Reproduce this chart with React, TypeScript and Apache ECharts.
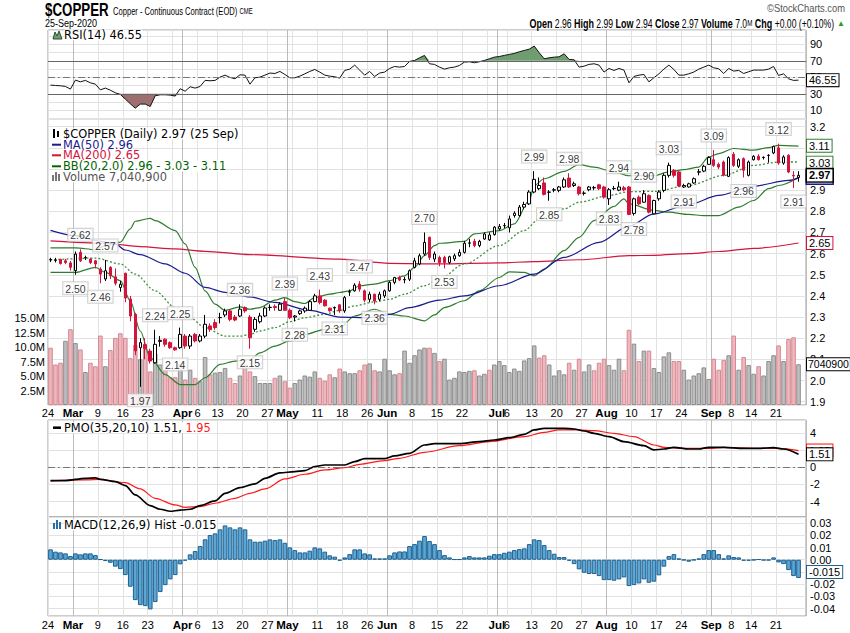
import React, { useEffect, useRef } from "react";
import * as echarts from "echarts";

// ---------------- categories (trading days) ----------------
const MONTH_DAYS: [string, number[]][] = [
  ["Feb", [24, 25, 26, 27, 28]],
  ["Mar", [2, 3, 4, 5, 6, 9, 10, 11, 12, 13, 16, 17, 18, 19, 20, 23, 24, 25, 26, 27, 30, 31]],
  ["Apr", [1, 2, 3, 6, 7, 8, 9, 13, 14, 15, 16, 17, 20, 21, 22, 23, 24, 27, 28, 29, 30]],
  ["May", [1, 4, 5, 6, 7, 8, 11, 12, 13, 14, 15, 18, 19, 20, 21, 22, 26, 27, 28, 29]],
  ["Jun", [1, 2, 3, 4, 5, 8, 9, 10, 11, 12, 15, 16, 17, 18, 19, 22, 23, 24, 25, 26, 29, 30]],
  ["Jul", [1, 2, 6, 7, 8, 9, 10, 13, 14, 15, 16, 17, 20, 21, 22, 23, 24, 27, 28, 29, 30, 31]],
  ["Aug", [3, 4, 5, 6, 7, 10, 11, 12, 13, 14, 17, 18, 19, 20, 21, 24, 25, 26, 27, 28, 31]],
  ["Sep", [1, 2, 3, 4, 8, 9, 10, 11, 14, 15, 16, 17, 18, 21, 22, 23, 24, 25]],
];
const DATES: string[] = MONTH_DAYS.flatMap(([m, ds]) => ds.map((d) => `${d} ${m}`));

const X_LABELS: [number, string][] = [
  [0, "24"], [5, "Mar"], [10, "9"], [15, "16"], [20, "23"], [27, "Apr"], [30, "6"], [34, "13"],
  [39, "20"], [44, "27"], [48, "May"], [54, "11"], [59, "18"], [64, "26"], [68, "Jun"], [73, "8"],
  [78, "15"], [83, "22"], [90, "Jul"], [92, "6"], [97, "13"], [102, "20"], [107, "27"], [112, "Aug"],
  [117, "10"], [122, "17"], [127, "24"], [133, "Sep"], [137, "8"], [141, "14"], [146, "21"],
];
const WEEK_STARTS = [0, 5, 10, 15, 20, 25, 30, 34, 39, 44, 49, 54, 59, 64, 68, 73, 78, 83, 88, 92, 97, 102, 107, 112, 117, 122, 127, 132, 137, 141, 146];
const MONTH_STARTS = [5, 27, 48, 68, 90, 112, 133];

// ---------------- price data ----------------
const OPEN = [
  2.570, 2.568, 2.572, 2.566, 2.556, 2.520, 2.606, 2.580, 2.574, 2.566,
  2.527, 2.480, 2.535, 2.490, 2.440, 2.507, 2.385, 2.313, 2.155, 2.170,
  2.139, 2.084, 2.185, 2.195, 2.179, 2.155, 2.155, 2.210, 2.163, 2.218,
  2.187, 2.210, 2.258, 2.274, 2.297, 2.310, 2.329, 2.300, 2.305, 2.345,
  2.300, 2.242, 2.278, 2.305, 2.345, 2.350, 2.332, 2.373, 2.332, 2.300,
  2.316, 2.329, 2.332, 2.373, 2.400, 2.380, 2.342, 2.343, 2.358, 2.329,
  2.418, 2.424, 2.456, 2.424, 2.384, 2.408, 2.384, 2.400, 2.424, 2.464,
  2.487, 2.476, 2.479, 2.535, 2.551, 2.598, 2.677, 2.574, 2.582, 2.582,
  2.558, 2.575, 2.590, 2.606, 2.649, 2.658, 2.638, 2.669, 2.665, 2.690,
  2.717, 2.732, 2.722, 2.780, 2.780, 2.820, 2.835, 2.891, 2.907, 2.934,
  2.890, 2.900, 2.899, 2.915, 2.957, 2.922, 2.915, 2.885, 2.902, 2.911,
  2.925, 2.915, 2.859, 2.907, 2.900, 2.911, 2.915, 2.790, 2.867, 2.843,
  2.875, 2.788, 2.859, 2.899, 2.970, 2.994, 2.986, 2.915, 2.915, 2.934,
  2.985, 2.990, 3.022, 3.044, 3.022, 3.033, 2.965, 3.070, 3.013, 3.049,
  2.970, 3.044, 3.060, 3.054, 3.064, 3.076, 3.100, 3.028, 3.065, 2.970,
  2.960,
];
const HIGH = [
  2.580, 2.580, 2.576, 2.575, 2.565, 2.610, 2.620, 2.590, 2.580, 2.570,
  2.535, 2.570, 2.540, 2.530, 2.470, 2.510, 2.400, 2.320, 2.200, 2.200,
  2.150, 2.240, 2.210, 2.200, 2.185, 2.160, 2.250, 2.220, 2.220, 2.225,
  2.220, 2.310, 2.270, 2.290, 2.320, 2.340, 2.335, 2.310, 2.360, 2.350,
  2.310, 2.300, 2.320, 2.350, 2.360, 2.360, 2.370, 2.390, 2.340, 2.310,
  2.335, 2.350, 2.380, 2.410, 2.430, 2.385, 2.345, 2.350, 2.360, 2.400,
  2.430, 2.460, 2.470, 2.430, 2.420, 2.410, 2.420, 2.430, 2.470, 2.490,
  2.495, 2.490, 2.525, 2.580, 2.600, 2.700, 2.680, 2.610, 2.590, 2.590,
  2.590, 2.600, 2.620, 2.660, 2.670, 2.670, 2.665, 2.700, 2.700, 2.730,
  2.740, 2.745, 2.780, 2.800, 2.830, 2.845, 2.900, 2.990, 2.960, 2.960,
  2.900, 2.910, 2.920, 2.960, 2.980, 2.940, 2.920, 2.895, 2.920, 2.920,
  2.930, 2.920, 2.910, 2.920, 2.940, 2.920, 2.920, 2.865, 2.875, 2.900,
  2.880, 2.855, 2.900, 2.980, 3.030, 3.000, 2.990, 2.930, 2.935, 2.960,
  3.000, 3.020, 3.060, 3.090, 3.030, 3.040, 3.060, 3.080, 3.050, 3.055,
  3.040, 3.065, 3.070, 3.060, 3.070, 3.110, 3.120, 3.065, 3.070, 2.990,
  2.990,
];
const LOW = [
  2.560, 2.558, 2.548, 2.550, 2.520, 2.500, 2.560, 2.570, 2.550, 2.530,
  2.460, 2.470, 2.480, 2.450, 2.420, 2.370, 2.280, 2.120, 1.970, 2.100,
  2.080, 2.080, 2.160, 2.160, 2.150, 2.140, 2.150, 2.150, 2.150, 2.180,
  2.180, 2.200, 2.230, 2.240, 2.270, 2.300, 2.280, 2.280, 2.300, 2.320,
  2.150, 2.230, 2.270, 2.300, 2.330, 2.330, 2.330, 2.330, 2.290, 2.280,
  2.310, 2.320, 2.330, 2.370, 2.360, 2.350, 2.325, 2.310, 2.320, 2.320,
  2.400, 2.420, 2.420, 2.370, 2.370, 2.360, 2.375, 2.390, 2.420, 2.455,
  2.470, 2.460, 2.470, 2.530, 2.545, 2.590, 2.570, 2.560, 2.540, 2.530,
  2.550, 2.565, 2.585, 2.600, 2.630, 2.630, 2.630, 2.665, 2.660, 2.685,
  2.710, 2.720, 2.700, 2.770, 2.775, 2.810, 2.830, 2.885, 2.900, 2.875,
  2.850, 2.890, 2.890, 2.910, 2.910, 2.915, 2.875, 2.875, 2.895, 2.900,
  2.900, 2.860, 2.830, 2.900, 2.895, 2.895, 2.782, 2.780, 2.830, 2.840,
  2.790, 2.785, 2.850, 2.890, 2.960, 2.960, 2.915, 2.910, 2.912, 2.930,
  2.970, 2.985, 3.020, 3.010, 3.000, 2.965, 2.962, 3.010, 3.005, 2.960,
  2.965, 3.040, 3.040, 3.045, 3.030, 3.070, 3.020, 3.020, 2.980, 2.910,
  2.940,
];
const CLOSE = [
  2.572, 2.570, 2.553, 2.558, 2.535, 2.598, 2.566, 2.582, 2.558, 2.551,
  2.503, 2.519, 2.495, 2.460, 2.455, 2.390, 2.305, 2.140, 2.179, 2.150,
  2.092, 2.171, 2.190, 2.171, 2.155, 2.145, 2.218, 2.163, 2.210, 2.187,
  2.210, 2.266, 2.242, 2.250, 2.298, 2.329, 2.289, 2.286, 2.337, 2.329,
  2.202, 2.289, 2.305, 2.343, 2.346, 2.345, 2.361, 2.332, 2.297, 2.305,
  2.329, 2.342, 2.373, 2.400, 2.369, 2.353, 2.330, 2.345, 2.329, 2.392,
  2.420, 2.451, 2.432, 2.380, 2.408, 2.376, 2.408, 2.424, 2.464, 2.487,
  2.475, 2.478, 2.519, 2.566, 2.590, 2.653, 2.582, 2.598, 2.558, 2.558,
  2.585, 2.590, 2.606, 2.649, 2.651, 2.638, 2.658, 2.693, 2.688, 2.725,
  2.728, 2.733, 2.764, 2.791, 2.820, 2.832, 2.891, 2.951, 2.922, 2.880,
  2.891, 2.902, 2.915, 2.949, 2.915, 2.930, 2.883, 2.886, 2.915, 2.912,
  2.907, 2.867, 2.902, 2.908, 2.915, 2.902, 2.785, 2.859, 2.835, 2.883,
  2.796, 2.851, 2.891, 2.970, 3.017, 2.970, 2.920, 2.922, 2.930, 2.954,
  2.987, 3.013, 3.054, 3.017, 3.009, 2.970, 3.054, 3.017, 3.044, 2.994,
  3.033, 3.060, 3.044, 3.055, 3.065, 3.107, 3.028, 3.057, 2.986, 2.967,
  2.970,
];
const PRIOR_CLOSE = 2.59;
const VOLUME_M = [
  9.9, 7.0, 7.3, 11.1, 13.1, 10.7, 9.6, 5.7, 7.3, 6.7,
  12.0, 6.7, 9.5, 11.6, 12.4, 11.6, 8.1, 10.4, 7.9, 9.7,
  5.8, 8.9, 7.0, 6.1, 4.8, 4.8, 7.0, 4.4, 6.1, 4.7,
  4.1, 8.3, 5.3, 5.6, 5.7, 6.4, 4.7, 3.8, 5.1, 7.0,
  5.8, 5.0, 3.8, 3.8, 3.8, 4.7, 5.1, 4.1, 3.0, 3.8,
  4.4, 5.1, 4.9, 5.8, 4.7, 4.2, 5.3, 4.8, 6.3, 5.8,
  5.5, 5.5, 6.0, 7.0, 7.2, 6.0, 5.8, 8.0, 6.0, 5.3,
  5.5, 9.4, 7.3, 8.6, 9.6, 9.9, 9.9, 9.0, 7.6, 8.0,
  4.4, 4.7, 5.8, 5.7, 5.9, 6.0, 5.1, 5.4, 6.1, 7.0,
  7.6, 6.9, 5.7, 6.3, 5.9, 7.7, 8.1, 10.3, 8.2, 8.6,
  7.0, 5.1, 6.0, 5.3, 7.3, 6.1, 8.0, 5.8, 7.0, 6.0,
  7.3, 8.0, 6.9, 6.1, 8.0, 6.0, 13.0, 10.6, 7.6, 9.4,
  9.4, 6.4, 5.7, 8.4, 9.1, 7.6, 7.6, 6.1, 4.4, 5.1,
  5.5, 6.5, 4.5, 8.0, 6.1, 7.8, 8.6, 12.0, 6.1, 8.3,
  6.9, 5.4, 6.7, 5.1, 7.6, 8.6, 10.3, 7.6, 11.4, 11.7,
  7.0409,
];

// overlays, read at sample dates: [trading-day index, value]
const MA50: [number, number][] = [
  [0, 2.71], [5, 2.685], [9, 2.662], [13, 2.646], [15, 2.617], [18, 2.595], [23, 2.551], [27, 2.507],
  [31, 2.44], [35, 2.417], [40, 2.395], [45, 2.369], [52, 2.332], [58, 2.3], [64, 2.297], [68, 2.313],
  [72, 2.345], [78, 2.38], [83, 2.4], [90, 2.448], [97, 2.503], [103, 2.582], [110, 2.653], [116, 2.73],
  [121, 2.788], [128, 2.832], [134, 2.875], [141, 2.919], [148, 2.946], [150, 2.958],
];
const MA200: [number, number][] = [
  [0, 2.66], [11, 2.649], [18, 2.633], [25, 2.622], [31, 2.611], [40, 2.595], [58, 2.574], [68, 2.554],
  [78, 2.551], [90, 2.556], [97, 2.562], [106, 2.571], [116, 2.59], [121, 2.592], [128, 2.6], [134, 2.61],
  [141, 2.625], [150, 2.65],
];
const BB_UPPER: [number, number][] = [
  [0, 2.627], [5, 2.627], [9, 2.619], [11, 2.638], [14, 2.654], [16, 2.717], [17, 2.753], [20, 2.767],
  [21, 2.756], [25, 2.709], [27, 2.646], [29, 2.535], [31, 2.424], [33, 2.361], [35, 2.332], [38, 2.348],
  [40, 2.337], [42, 2.345], [45, 2.38], [47, 2.392], [49, 2.373], [51, 2.364], [53, 2.392], [56, 2.408],
  [58, 2.416], [60, 2.424], [62, 2.448], [65, 2.456], [68, 2.472], [71, 2.495], [73, 2.535], [75, 2.59],
  [77, 2.638], [78, 2.649], [83, 2.658], [85, 2.693], [90, 2.709], [93, 2.741], [96, 2.851], [97, 2.922],
  [99, 2.954], [103, 2.989], [106, 3.021], [109, 3.009], [113, 2.986], [116, 2.968], [121, 2.968],
  [124, 2.986], [127, 2.997], [130, 3.009], [132, 3.057], [134, 3.073], [137, 3.097], [141, 3.089],
  [144, 3.101], [146, 3.112], [150, 3.108],
];
const BB_MID: [number, number][] = [
  [0, 2.57], [9, 2.579], [14, 2.551], [17, 2.503], [21, 2.424], [25, 2.345], [28, 2.297], [31, 2.25],
  [35, 2.21], [38, 2.21], [40, 2.218], [42, 2.234], [45, 2.25], [48, 2.278], [51, 2.297], [55, 2.313],
  [58, 2.332], [61, 2.353], [65, 2.372], [68, 2.384], [71, 2.408], [75, 2.448], [78, 2.48], [83, 2.551],
  [90, 2.638], [95, 2.709], [98, 2.764], [103, 2.812], [106, 2.843], [112, 2.875], [116, 2.893],
  [121, 2.894], [128, 2.922], [135, 2.97], [141, 3.017], [146, 3.033], [150, 3.033],
];
const BB_LOWER: [number, number][] = [
  [0, 2.511], [5, 2.511], [9, 2.535], [11, 2.511], [14, 2.472], [16, 2.377], [18, 2.234], [20, 2.108],
  [23, 2.028], [26, 1.981], [29, 1.981], [31, 2.013], [34, 2.076], [37, 2.092], [40, 2.1], [42, 2.131],
  [45, 2.163], [48, 2.187], [51, 2.218], [55, 2.242], [58, 2.25], [61, 2.305], [65, 2.337], [68, 2.313],
  [71, 2.305], [75, 2.282], [77, 2.31], [79, 2.345], [83, 2.377], [86, 2.424], [90, 2.487], [92, 2.514],
  [95, 2.511], [97, 2.495], [99, 2.527], [103, 2.614], [106, 2.677], [109, 2.756], [113, 2.823],
  [115, 2.859], [116, 2.835], [121, 2.804], [124, 2.796], [128, 2.785], [131, 2.78], [134, 2.78],
  [138, 2.82], [141, 2.851], [144, 2.907], [146, 2.922], [150, 2.96],
];
const HIGH_MARKS = [6, 11, 21, 26, 38, 47, 54, 62, 75, 97, 104, 114, 119, 124, 133, 146];
const LOW_MARKS = [5, 10, 18, 25, 40, 49, 57, 65, 79, 100, 112, 117, 127, 139, 149];

// ---------------- indicators ----------------
const RSI14 = [
  40.5, 40.1, 39.7, 38.9, 35.7, 46.6, 44.5, 46.2, 43.3, 41.7,
  34.8, 36.9, 34.4, 31.2, 29.2, 23.6, 17.9, 12.6, 17.5, 17.5,
  14.6, 27.6, 28.8, 28.8, 28.4, 27.2, 36.1, 33.2, 38.5, 36.9,
  38.9, 46.2, 45.8, 46.2, 50.2, 52.6, 49.8, 48.2, 53.0, 52.6,
  41.7, 49.4, 50.2, 52.6, 55.1, 54.6, 57.1, 53.4, 49.4, 49.4,
  51.4, 54.2, 57.1, 59.5, 56.3, 52.6, 51.4, 50.6, 49.0, 58.3,
  59.9, 64.7, 58.7, 52.6, 57.1, 51.0, 55.1, 56.3, 60.7, 63.1,
  62.3, 63.1, 69.2, 70.4, 73.6, 76.5, 66.4, 65.6, 62.3, 59.9,
  61.5, 62.3, 64.3, 68.4, 68.8, 67.6, 68.8, 70.4, 72.4, 74.4,
  75.2, 76.5, 77.7, 78.9, 80.9, 82.5, 84.1, 87.8, 79.7, 72.4,
  73.6, 74.4, 74.8, 78.5, 71.6, 71.2, 62.3, 63.5, 65.6, 66.4,
  64.7, 56.3, 60.7, 58.3, 60.7, 58.7, 43.3, 51.0, 52.6, 53.4,
  44.5, 49.4, 54.2, 59.9, 64.7, 59.5, 52.6, 52.6, 54.2, 56.3,
  59.9, 62.3, 64.7, 61.5, 60.3, 54.6, 60.7, 57.5, 58.3, 54.6,
  56.7, 58.7, 58.7, 58.7, 59.9, 63.1, 52.2, 54.2, 48.2, 46.2,
  46.55,
];
const PMO_LINE: [number, number][] = [
  [0, -1.55], [3, -1.55], [7, -1.28], [9, -1.24], [10, -1.4], [13, -1.67], [15, -2.13], [17, -3.22],
  [20, -4.46], [22, -4.89], [24, -5.12], [26, -5.0], [28, -4.89], [30, -4.46], [33, -3.92], [35, -3.03],
  [38, -2.37], [41, -1.94], [43, -1.28], [46, -0.66], [49, -0.5], [51, -0.39], [53, 0.08], [55, 0.27],
  [59, 0.27], [61, 0.66], [63, 1.01], [67, 1.01], [69, 1.32], [72, 1.63], [75, 2.6], [77, 2.76],
  [82, 2.76], [86, 2.99], [89, 3.18], [92, 3.45], [95, 3.84], [97, 4.35], [99, 4.54], [103, 4.54],
  [105, 4.46], [107, 4.23], [109, 3.96], [112, 3.57], [115, 2.99], [119, 2.52], [121, 2.02], [123, 2.13],
  [125, 2.33], [128, 2.13], [130, 2.13], [132, 2.33], [135, 2.33], [139, 2.21], [142, 2.21], [145, 2.29],
  [147, 2.13], [150, 1.51],
];
const PMO_SIGNAL: [number, number][] = [
  [0, -1.59], [7, -1.47], [10, -1.4], [15, -1.79], [18, -2.52], [21, -3.61], [25, -4.38], [27, -4.66],
  [30, -4.58], [33, -4.19], [37, -3.61], [40, -3.03], [43, -2.52], [47, -1.36], [51, -0.81], [55, -0.31],
  [59, -0.04], [62, 0.35], [67, 0.78], [70, 1.05], [75, 1.75], [82, 2.52], [88, 2.99], [95, 3.57],
  [99, 4.07], [102, 4.35], [106, 4.35], [109, 4.27], [113, 3.96], [117, 3.57], [121, 2.6], [123, 2.33],
  [127, 2.21], [132, 2.21], [135, 2.33], [142, 2.21], [146, 2.21], [150, 1.95],
];
const MACD_HIST = [
  0.0085, 0.0066, 0.0060, 0.0052, 0.0030, 0.0052, 0.0044, 0.0052, 0.0052, 0.0038,
  0.0003, -0.0011, -0.0025, -0.0057, -0.0077, -0.0126, -0.0221, -0.0331, -0.0372, -0.0380,
  -0.0407, -0.0347, -0.0265, -0.0208, -0.0161, -0.0126, -0.0038, -0.0008, 0.0044, 0.0071,
  0.0112, 0.0167, 0.0202, 0.0216, 0.0249, 0.0281, 0.0265, 0.0249, 0.0265, 0.0249,
  0.0167, 0.0148, 0.0148, 0.0156, 0.0167, 0.0161, 0.0167, 0.0139, 0.0101, 0.0079,
  0.0060, 0.0060, 0.0074, 0.0101, 0.0093, 0.0066, 0.0036, 0.0025, -0.0008, 0.0019,
  0.0046, 0.0085, 0.0085, 0.0052, 0.0044, 0.0011, 0.0011, 0.0011, 0.0036, 0.0060,
  0.0068, 0.0068, 0.0112, 0.0128, 0.0156, 0.0194, 0.0153, 0.0128, 0.0079, 0.0038,
  0.0019, 0.0003, 0.0003, 0.0019, 0.0030, 0.0019, 0.0019, 0.0019, 0.0033, 0.0046,
  0.0046, 0.0057, 0.0066, 0.0079, 0.0087, 0.0093, 0.0128, 0.0167, 0.0161, 0.0120,
  0.0079, 0.0049, 0.0022, 0.0022, -0.0008, -0.0036, -0.0079, -0.0107, -0.0117, -0.0117,
  -0.0134, -0.0167, -0.0167, -0.0172, -0.0161, -0.0145, -0.0216, -0.0208, -0.0194, -0.0161,
  -0.0189, -0.0180, -0.0128, -0.0057, 0.0030, 0.0046, 0.0011, -0.0003, -0.0016, -0.0003,
  0.0011, 0.0046, 0.0079, 0.0079, 0.0046, 0.0011, 0.0036, 0.0022, 0.0019, -0.0008,
  -0.0008, -0.0003, 0.0003, -0.0005, -0.0005, 0.0019, -0.0022, -0.0036, -0.0085, -0.0134,
  -0.0150,
];

// ---------------- styling helpers ----------------
const FONT_AX = '"Liberation Sans", Arial, sans-serif';
const FONT_LG = '"DejaVu Sans", Verdana, sans-serif';
const GL = 48;
const GR = 44;
const RED = "#d3143c";
const NAVY = "#1b1b8f";
const GREEN = "#2e7d2e";

const onStep = (v: number, s: number) => Math.abs(v / s - Math.round(v / s)) < 1e-6;
const lastOf = (a: [number, number][]) => a[a.length - 1][1];

function tagItem(value: number, text: string, border: string, bold = false, size = 11) {
  return {
    yAxis: value,
    lineStyle: { color: "rgba(0,0,0,0)", width: 1, opacity: 1, type: "solid" },
    label: {
      show: true,
      opacity: 1,
      position: "end",
      distance: 1,
      formatter: text,
      color: "#000",
      fontFamily: FONT_AX,
      fontSize: size,
      fontWeight: bold ? "bold" : "normal",
      backgroundColor: "#fff",
      borderColor: border,
      borderWidth: bold ? 1.5 : 1,
      padding: size < 11 ? [1, 1, 0, 1] : [1, 2, 0, 2],
    },
  };
}
function markLines(items: any[]) {
  return { silent: true, symbol: ["none", "none"], animation: false, label: { show: false }, data: items };
}

function buildOption() {
  const N = CLOSE.length;
  const CATS = [...DATES, ""];
  const weekSet = new Set(WEEK_STARTS);
  const monthSet = new Set(MONTH_STARTS);
  const labelMap = new Map(X_LABELS);

  const xLabel = (margin: number) => ({
    show: true,
    interval: (i: number) => labelMap.has(i),
    formatter: (_v: string, i: number) => {
      const t = labelMap.get(i) || "";
      return /^[A-Z]/.test(t) ? `{b|${t}}` : `{n|${t}}`;
    },
    margin,
    padding: [0, 5, 0, 0],
    rich: {
      b: { fontWeight: "bold", fontSize: 11.5, fontFamily: FONT_AX, color: "#000" },
      n: { fontSize: 11, fontFamily: FONT_AX, color: "#000" },
    },
  });
  const xPair = (gridIndex: number, labels: any) => [
    {
      type: "category", gridIndex, data: CATS, boundaryGap: true,
      axisLine: { show: false }, axisTick: { show: false },
      axisLabel: labels || { show: false },
      splitLine: { show: true, interval: (i: number) => weekSet.has(i) && !monthSet.has(i), lineStyle: { color: "#e2e2e2", width: 1 } },
    },
    {
      type: "category", gridIndex, data: CATS, boundaryGap: true,
      axisLine: { show: false }, axisTick: { show: false }, axisLabel: { show: false },
      splitLine: { show: true, interval: (i: number) => monthSet.has(i), lineStyle: { color: "#bcbcbc", width: 1 } },
    },
  ];

  const yBase = (gridIndex: number, min: number, max: number, step: number, fmt: (v: number) => string, position = "right") => ({
    type: "value", gridIndex, position, min, max, minInterval: step, maxInterval: step, scale: true,
    axisLine: { show: false }, axisTick: { show: false },
    splitLine: { show: true, lineStyle: { color: "#e2e2e2", width: 1 } },
    axisLabel: {
      show: true, margin: 4, fontSize: 11, fontFamily: FONT_AX, color: "#000",
      formatter: (v: number) => (onStep(v, step) ? fmt(v) : ""),
    },
  });

  const grid = (top: number, height: number, show = true) => ({
    left: GL, right: GR, top, height, show, borderColor: "#9c9c9c", borderWidth: 1,
    backgroundColor: "transparent", containLabel: false, outerBoundsMode: "none",
  });

  const volData = VOLUME_M.map((v, i) => {
    const prev = i === 0 ? PRIOR_CLOSE : CLOSE[i - 1];
    const down = CLOSE[i] < prev;
    return {
      value: v,
      itemStyle: { color: down ? "#ebb9bf" : "#bebebe", borderColor: down ? "#d88791" : "#8d8d8d", borderWidth: 1 },
    };
  });
  const candles = OPEN.map((o, i) => [o, CLOSE[i], LOW[i], HIGH[i]]);

  const annLabel = (position: string, distance: number) => ({
    show: true, position, distance,
    formatter: (p: any) => Number(p.value[1]).toFixed(2),
    fontFamily: FONT_AX, fontSize: 10.5, color: "#000",
    backgroundColor: "#fff", borderColor: "#c4c4c4", borderWidth: 1, padding: [1, 2, 0, 2],
  });

  const lastClose = CLOSE[N - 1];
  const lastRSI = RSI14[N - 1];

  const legendText = (x: number, y: number, text: string, fill: string) => ({
    type: "text", x, y, silent: true, z: 50,
    style: { text, font: `11.4px ${FONT_LG}`, fill, align: "left", verticalAlign: "middle", backgroundColor: "#fff" },
  });
  const lineIcon = (y: number, color: string, w = 2) => ({
    type: "line", silent: true, z: 50, shape: { x1: 52, y1: y, x2: 61, y2: y }, style: { stroke: color, lineWidth: w },
  });
  const narrow = (x: number, y: number, text: string, font: string, sx: number, align = "left", fill = "#000", rich?: any) => ({
    type: "text", x, y, scaleX: sx, scaleY: 1, silent: true, z: 50,
    style: { text, font, fill, align, verticalAlign: "middle", rich },
  });

  const chg = lastClose - CLOSE[N - 2];
  const chgPct = (chg / CLOSE[N - 2]) * 100;
  const sign = (v: number) => (v >= 0 ? "+" : "");

  return {
    animation: false,
    backgroundColor: "#fff",
    textStyle: { fontFamily: FONT_AX },
    grid: [grid(30, 89), grid(119, 286), grid(318.2, 86.8, false), grid(420, 97), grid(517, 99)],
    xAxis: [
      ...xPair(0, null),
      ...xPair(1, xLabel(2)),
      { type: "category", gridIndex: 2, data: CATS, boundaryGap: true, show: false },
      ...xPair(3, null),
      ...xPair(4, xLabel(3)),
    ],
    yAxis: [
      yBase(0, -0.55, 107.3, 10, (v) => ([10, 30, 50, 70, 90].includes(Math.round(v)) ? String(Math.round(v)) : "")),
      yBase(1, 1.8842, 3.2364, 0.1, (v) => v.toFixed(1)),
      {
        type: "value", gridIndex: 2, position: "left", min: 0, max: 15, interval: 2.5,
        axisLine: { show: false }, axisTick: { show: false }, splitLine: { show: false },
        axisLabel: {
          margin: 3, fontSize: 11, fontFamily: FONT_AX, color: "#000",
          formatter: (v: number) => (v > 0 ? `${v.toFixed(1)}M` : ""),
        },
      },
      yBase(3, -5.79, 5.51, 2, (v) => String(Math.round(v))),
      yBase(4, -0.0461, 0.035, 0.01, (v) => (Math.abs(v) < 1e-9 ? "0.00" : v.toFixed(2))),
    ],
    series: [
      // ---- volume ----
      {
        name: "Volume", type: "bar", xAxisIndex: 4, yAxisIndex: 2, data: volData, barCategoryGap: "8%", z: 1,
        markLine: markLines([tagItem(VOLUME_M[N - 1], String(Math.round(VOLUME_M[N - 1] * 1e6)), "#000", false, 10.5)]),
      },
      // ---- overlays ----
      {
        name: "MA200", type: "line", xAxisIndex: 2, yAxisIndex: 1, data: MA200, symbol: "none", smooth: 0.3, smoothMonotone: "x",
        lineStyle: { color: RED, width: 1.2 }, z: 3,
        markLine: markLines([tagItem(lastOf(MA200), lastOf(MA200).toFixed(2), RED)]),
      },
      {
        name: "BBlow", type: "line", xAxisIndex: 2, yAxisIndex: 1, data: BB_LOWER, symbol: "none", smooth: 0.3, smoothMonotone: "x",
        lineStyle: { color: GREEN, width: 1.2 }, z: 3,
        markLine: markLines([tagItem(lastOf(BB_LOWER), lastOf(BB_LOWER).toFixed(2), GREEN)]),
      },
      {
        name: "BBup", type: "line", xAxisIndex: 2, yAxisIndex: 1, data: BB_UPPER, symbol: "none", smooth: 0.3, smoothMonotone: "x",
        lineStyle: { color: GREEN, width: 1.2 }, z: 3,
        markLine: markLines([tagItem(lastOf(BB_UPPER), lastOf(BB_UPPER).toFixed(2), GREEN)]),
      },
      {
        name: "BBmid", type: "line", xAxisIndex: 2, yAxisIndex: 1, data: BB_MID, symbol: "none", smooth: 0.3, smoothMonotone: "x",
        lineStyle: { color: "#3f8f3f", width: 1.3, type: [2, 2] }, z: 3,
        markLine: markLines([tagItem(lastOf(BB_MID), lastOf(BB_MID).toFixed(2), GREEN)]),
      },
      {
        name: "MA50", type: "line", xAxisIndex: 2, yAxisIndex: 1, data: MA50, symbol: "none", smooth: 0.3, smoothMonotone: "x",
        lineStyle: { color: NAVY, width: 1.2 }, z: 3,
        markLine: markLines([tagItem(lastOf(MA50), lastOf(MA50).toFixed(2), NAVY, true)]),
      },
      {
        name: "Price", type: "candlestick", xAxisIndex: 2, yAxisIndex: 1, data: candles, barWidth: 3, z: 4,
        itemStyle: { color: "#ffffff", color0: RED, borderColor: "#000", borderColor0: RED, borderWidth: 1 },
        markLine: markLines([tagItem(lastClose, lastClose.toFixed(2), "#000", true)]),
      },
      {
        name: "Highs", type: "scatter", xAxisIndex: 2, yAxisIndex: 1, symbolSize: 1, z: 6,
        itemStyle: { color: "rgba(0,0,0,0)" },
        data: HIGH_MARKS.map((i) => [i, HIGH[i]]), label: annLabel("top", 8),
      },
      {
        name: "Lows", type: "scatter", xAxisIndex: 2, yAxisIndex: 1, symbolSize: 1, z: 6,
        itemStyle: { color: "rgba(0,0,0,0)" },
        data: LOW_MARKS.map((i) => [i, LOW[i]]), label: annLabel("bottom", 7),
      },
      // ---- RSI ----
      {
        type: "line", xAxisIndex: 0, yAxisIndex: 0, data: RSI14.map((v) => Math.min(v, 30)), stack: "lo",
        symbol: "none", lineStyle: { opacity: 0 }, silent: true, z: 2,
      },
      {
        type: "line", xAxisIndex: 0, yAxisIndex: 0, data: RSI14.map((v) => 30 - Math.min(v, 30)), stack: "lo",
        symbol: "none", lineStyle: { opacity: 0 }, areaStyle: { color: "#9d6f6f", opacity: 1 }, silent: true, z: 2,
      },
      {
        type: "line", xAxisIndex: 0, yAxisIndex: 0, data: RSI14.map(() => 70), stack: "hi",
        symbol: "none", lineStyle: { opacity: 0 }, silent: true, z: 2,
      },
      {
        type: "line", xAxisIndex: 0, yAxisIndex: 0, data: RSI14.map((v) => Math.max(v - 70, 0)), stack: "hi",
        symbol: "none", lineStyle: { opacity: 0 }, areaStyle: { color: "#6f9d6f", opacity: 1 }, silent: true, z: 2,
      },
      {
        name: "RSI", type: "line", xAxisIndex: 0, yAxisIndex: 0, data: RSI14, symbol: "none",
        lineStyle: { color: "#111", width: 1 }, z: 4,
        markLine: markLines([
          { yAxis: 70, lineStyle: { color: "#666", width: 1, type: "solid" } },
          { yAxis: 30, lineStyle: { color: "#666", width: 1, type: "solid" } },
          { yAxis: 50, lineStyle: { color: "#777", width: 1, type: [7, 3, 2, 3] } },
          tagItem(lastRSI, lastRSI.toFixed(2), "#000"),
        ]),
      },
      // ---- PMO ----
      {
        name: "PMOsig", type: "line", xAxisIndex: 5, yAxisIndex: 3, data: PMO_SIGNAL, symbol: "none", smooth: 0.3, smoothMonotone: "x",
        lineStyle: { color: "#ff1a1a", width: 1.2 }, z: 3,
        markLine: markLines([tagItem(lastOf(PMO_SIGNAL), lastOf(PMO_SIGNAL).toFixed(2), "#ff1a1a")]),
      },
      {
        name: "PMO", type: "line", xAxisIndex: 5, yAxisIndex: 3, data: PMO_LINE, symbol: "none", smooth: 0.3, smoothMonotone: "x",
        lineStyle: { color: "#000", width: 1.7 }, z: 4,
        markLine: markLines([
          { yAxis: 0, lineStyle: { color: "#777", width: 1, type: [7, 3, 2, 3] } },
          tagItem(lastOf(PMO_LINE), lastOf(PMO_LINE).toFixed(2), "#000"),
        ]),
      },
      // ---- MACD histogram ----
      {
        name: "MACD", type: "bar", xAxisIndex: 7, yAxisIndex: 4, data: MACD_HIST, barCategoryGap: "6%", z: 3,
        itemStyle: { color: "#5aa6d4", borderColor: "#1d6090", borderWidth: 1 },
        markLine: markLines([tagItem(MACD_HIST[N - 1], MACD_HIST[N - 1].toFixed(3), "#1d6090")]),
      },
    ],
    graphic: [
      // header
      narrow(45, 10, "$COPPER", `bold 18px ${FONT_AX}`, 0.74),
      narrow(113, 11, "Copper - Continuous Contract (EOD) {s|CME}", `11.5px ${FONT_AX}`, 0.66, "left", "#000",
        { s: { font: `9px ${FONT_AX}`, fill: "#000" } }),
      narrow(45, 23, "25-Sep-2020", `11px ${FONT_AX}`, 0.82),
      narrow(845, 8, "©StockCharts.com", `11px ${FONT_AX}`, 0.85, "right", "#555"),
      narrow(
        834, 23,
        `{b|Open} ${OPEN[N - 1].toFixed(2)} {b|High} ${HIGH[N - 1].toFixed(2)} {b|Low} ${LOW[N - 1].toFixed(2)} ` +
          `{b|Close} ${lastClose.toFixed(2)} {b|Volume} ${VOLUME_M[N - 1].toFixed(1)}{s|M} {b|Chg} ${sign(chg)}${chg.toFixed(2)} (${sign(chgPct)}${chgPct.toFixed(2)}%)`,
        `12.5px ${FONT_AX}`, 0.69, "right", "#000",
        { b: { font: `bold 13px ${FONT_AX}`, fill: "#000" }, s: { font: `9px ${FONT_AX}`, fill: "#000" } },
      ),
      { type: "text", x: 841, y: 23, silent: true, style: { text: "▲", font: `8px ${FONT_AX}`, fill: "#22a022", align: "center", verticalAlign: "middle" } },

      // RSI legend
      { type: "polygon", silent: true, z: 50, shape: { points: [[53, 39], [55, 32], [57, 36], [59, 31], [62, 39]] }, style: { fill: "#6f9d6f", stroke: "#2f4f2f", lineWidth: 1 } },
      legendText(64, 35, `RSI(14) ${lastRSI.toFixed(2)}`, "#000"),

      // main legend
      { type: "rect", silent: true, z: 50, shape: { x: 53, y: 129, width: 2, height: 9 }, style: { fill: "#000" } },
      { type: "rect", silent: true, z: 50, shape: { x: 57, y: 131, width: 2, height: 6 }, style: { fill: "#000" } },
      legendText(63, 133.7, `$COPPER (Daily) ${lastClose.toFixed(2)} (25 Sep)`, "#000"),
      lineIcon(144.7, NAVY),
      legendText(63, 144.7, `MA(50) ${lastOf(MA50).toFixed(2)}`, NAVY),
      lineIcon(155.3, RED),
      legendText(63, 155.3, `MA(200) ${lastOf(MA200).toFixed(2)}`, RED),
      lineIcon(166.3, "#006400"),
      legendText(63, 166.3, `BB(20,2.0) ${lastOf(BB_LOWER).toFixed(2)} - ${lastOf(BB_MID).toFixed(2)} - ${lastOf(BB_UPPER).toFixed(2)}`, "#006400"),
      { type: "rect", silent: true, z: 50, shape: { x: 52, y: 175, width: 2, height: 6 }, style: { fill: "#777" } },
      { type: "rect", silent: true, z: 50, shape: { x: 55, y: 172, width: 2, height: 9 }, style: { fill: "#777" } },
      { type: "rect", silent: true, z: 50, shape: { x: 58, y: 174, width: 2, height: 7 }, style: { fill: "#777" } },
      legendText(63, 176.7, `Volume ${Math.round(VOLUME_M[N - 1] * 1e6).toLocaleString("en-US")}`, "#555"),

      // PMO legend
      { type: "line", silent: true, z: 50, shape: { x1: 53, y1: 427.7, x2: 61, y2: 427.7 }, style: { stroke: "#000", lineWidth: 2.5 } },
      {
        type: "text", x: 64, y: 427.7, silent: true, z: 50,
        style: {
          text: `{k|PMO(35,20,10) ${lastOf(PMO_LINE).toFixed(2)}, }{r|${lastOf(PMO_SIGNAL).toFixed(2)}}`,
          font: `11.4px ${FONT_LG}`, align: "left", verticalAlign: "middle", backgroundColor: "#fff",
          rich: { k: { font: `11.4px ${FONT_LG}`, fill: "#000" }, r: { font: `11.4px ${FONT_LG}`, fill: "#ff1a1a" } },
        },
      },
      // MACD legend
      { type: "rect", silent: true, z: 50, shape: { x: 53, y: 523, width: 2, height: 6 }, style: { fill: "#2a6ea8" } },
      { type: "rect", silent: true, z: 50, shape: { x: 56, y: 520, width: 2, height: 9 }, style: { fill: "#2a6ea8" } },
      { type: "rect", silent: true, z: 50, shape: { x: 59, y: 522, width: 2, height: 7 }, style: { fill: "#2a6ea8" } },
      legendText(64, 525, `MACD(12,26,9) Hist ${MACD_HIST[N - 1].toFixed(3)}`, "#000"),
    ],
  };
}

export default function App() {
  const ref = useRef<HTMLDivElement>(null);
  useEffect(() => {
    if (!ref.current) return;
    const chart = echarts.init(ref.current, null, { renderer: "svg" });
    chart.setOption(buildOption() as any);
    return () => chart.dispose();
  }, []);
  return (
    <div
      ref={ref}
      style={{ position: "fixed", left: 0, top: 0, width: 850, height: 633, background: "#fff" }}
    />
  );
}
